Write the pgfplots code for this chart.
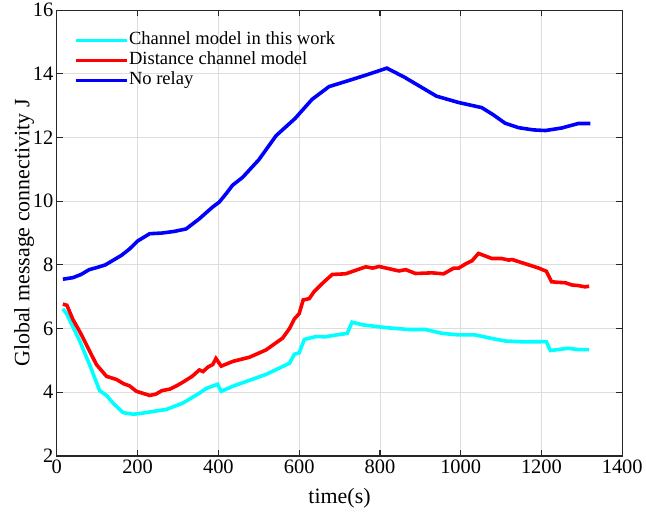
\documentclass[border=0pt]{standalone}
\usepackage{fontspec}
\setmainfont{Liberation Serif}
\usepackage{pgfplots}
\pgfplotsset{compat=1.18}

\definecolor{gridgray}{gray}{0.87}
\definecolor{axgray}{gray}{0.15}
\definecolor{lcyan}{RGB}{0,255,255}
\definecolor{lred}{RGB}{255,0,0}
\definecolor{lblue}{RGB}{0,0,255}

\begin{document}
\begin{tikzpicture}
  \begin{axis}[
    name=ax,
    width=567pt, height=447pt, scale only axis,
    xmin=0, xmax=1400, ymin=2, ymax=16,
    xtick={0,200,...,1400}, ytick={2,4,...,16},
    grid=major, grid style={gridgray, line width=0.8pt},
    axis line style={axgray, line width=1.2pt},
    tick style={axgray, line width=1.2pt},
    tick align=inside, major tick length=6pt,
    /pgf/number format/assume math mode=true,
    /pgf/number format/1000 sep={},
    tick label style={font=\fontsize{20.5}{24}\selectfont, text=black},
    label style={font=\fontsize{22}{26}\selectfont},
    xlabel={time(s)},
    ylabel={Global message connectivity J},
    xlabel style={yshift=-8pt},
    ylabel style={yshift=-8pt},
    legend cell align=left,
    legend style={draw=none, fill=none, at={(rel axis cs:0.031,0.955)}, anchor=north west,
      font=\fontsize{18.6}{20.5}\selectfont, row sep=0pt, inner sep=0pt,
      nodes={inner sep=0pt, text height=14pt, text depth=6pt},
      /tikz/every even column/.append style={column sep=6pt}},
    legend image code/.code={\draw[#1] (0pt,0pt) -- (51pt,0pt);},
  ]
    \addplot[lcyan, line width=3.6pt] coordinates {
      (15,6.62) (25,6.45) (40,6.05) (57,5.6) (81,4.87) (106,4.05) (123,3.9) (139,3.66)
      (164,3.36) (189,3.31) (210,3.34) (230,3.38) (271,3.46) (312,3.66) (353,3.97)
      (370,4.12) (398,4.25) (407,4.03) (436,4.19) (518,4.56) (576,4.91) (588,5.19)
      (600,5.24) (613,5.66) (642,5.75) (666,5.74) (682,5.78) (719,5.85) (731,6.2)
      (756,6.12) (814,6.03) (872,5.97) (913,5.97) (954,5.85) (995,5.8) (1036,5.8)
      (1077,5.69) (1110,5.61) (1160,5.58) (1212,5.59) (1222,5.31) (1266,5.38)
      (1291,5.34) (1318,5.34)};
    \addlegendentry{Channel model in this work}
    \addplot[lred, line width=3.6pt] coordinates {
      (15,6.77) (25,6.73) (40,6.28) (57,5.9) (75,5.45) (98,4.87) (123,4.5) (148,4.4)
      (165,4.27) (180,4.2) (197,4.03) (230,3.9) (245,3.94) (260,4.05) (280,4.1)
      (296,4.2) (310,4.3) (335,4.5) (353,4.7) (362,4.65) (375,4.8) (386,4.87)
      (394,5.06) (407,4.82) (436,4.97) (477,5.1) (518,5.33) (559,5.7) (576,6.0)
      (588,6.3) (600,6.47) (610,6.9) (625,6.94) (637,7.16) (660,7.45) (682,7.7)
      (715,7.72) (765,7.94) (782,7.9) (798,7.95) (847,7.81) (864,7.85) (888,7.73)
      (929,7.75) (958,7.72) (983,7.9) (995,7.9) (1012,8.03) (1028,8.13) (1044,8.36)
      (1061,8.28) (1077,8.2) (1102,8.2) (1119,8.15) (1127,8.17) (1144,8.1)
      (1176,7.97) (1193,7.9) (1212,7.8) (1225,7.47) (1243,7.45) (1259,7.44)
      (1275,7.37) (1291,7.35) (1308,7.31) (1318,7.33)};
    \addlegendentry{Distance channel model}
    \addplot[lblue, line width=3.6pt] coordinates {
      (15,7.55) (40,7.6) (60,7.7) (80,7.85) (100,7.92) (120,8.0) (160,8.3) (180,8.5)
      (200,8.75) (230,8.98) (260,9.0) (290,9.05) (320,9.13) (353,9.45) (385,9.81)
      (402,9.97) (420,10.25) (435,10.5) (460,10.75) (500,11.3) (543,12.06) (590,12.6)
      (632,13.2) (674,13.6) (720,13.78) (770,13.98) (817,14.18) (860,13.9) (900,13.6)
      (940,13.3) (995,13.1) (1052,12.94) (1080,12.72) (1110,12.45) (1143,12.31)
      (1180,12.24) (1210,12.22) (1250,12.3) (1291,12.44) (1321,12.44)};
    \addlegendentry{No relay}
  \end{axis}
  \path ([shift={(-57pt,-62pt)}]ax.south west) rectangle ([shift={(22pt,8pt)}]ax.north east);
\end{tikzpicture}
\end{document}
